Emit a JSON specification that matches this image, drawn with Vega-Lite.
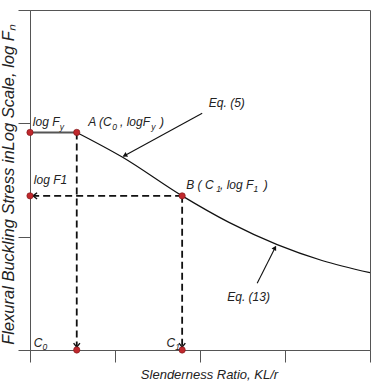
{
  "$schema": "https://vega.github.io/schema/vega-lite/v6.json",
  "width": 340,
  "height": 340,
  "autosize": {"type": "none"},
  "padding": {"left": 30, "top": 10, "right": 2, "bottom": 36},
  "background": "white",
  "config": {
    "view": {"stroke": "#555", "strokeWidth": 1},
    "axis": {"grid": false, "labels": false, "tickSize": 12, "domainColor": "#555", "tickColor": "#555", "titleFont": "Liberation Sans", "titleFontStyle": "italic", "titleFontWeight": "normal", "titleColor": "#222"}
  },
  "datasets": {
    "curve": [
      {"x": 0.55, "y": 1.92}, {"x": 1.085, "y": 1.703}, {"x": 1.79, "y": 1.36},
      {"x": 2.341, "y": 1.126}, {"x": 2.908, "y": 0.93}, {"x": 3.435, "y": 0.79}, {"x": 4.0, "y": 0.682}
    ],
    "flat": [{"x": 0, "y": 1.92}, {"x": 0.55, "y": 1.92}],
    "dashed": [
      {"x": 0.55, "y": 1.92, "x2": 0.55, "y2": 0},
      {"x": 1.79, "y": 1.36, "x2": 1.79, "y2": 0},
      {"x": 1.79, "y": 1.36, "x2": 0, "y2": 1.36}
    ],
    "pointers": [
      {"x": 2.026, "y": 2.089, "x2": 1.1, "y2": 1.71},
      {"x": 2.673, "y": 0.589, "x2": 2.885, "y2": 0.905}
    ],
    "heads": [
      {"x": 1.115, "y": 1.717, "a": 241.5},
      {"x": 2.882, "y": 0.902, "a": 29.5}
    ],
    "chevrons": [
      {"x": 0.55, "y": 0.025, "a": 0},
      {"x": 1.79, "y": 0.025, "a": 0},
      {"x": 0.035, "y": 1.36, "a": 90}
    ],
    "dots": [
      {"x": 0, "y": 1.92}, {"x": 0.55, "y": 1.92}, {"x": 0, "y": 1.36},
      {"x": 1.79, "y": 1.36}, {"x": 0.55, "y": 0}, {"x": 1.79, "y": 0}
    ],
    "labels": [
      {"x": 0.033, "y": 1.974, "t": "log F"},
      {"x": 0.685, "y": 1.974, "t": "A (C"},
      {"x": 1.059, "y": 1.974, "t": ", logF"},
      {"x": 1.53, "y": 1.974, "t": ")"},
      {"x": 0.045, "y": 1.462, "t": "log F1"},
      {"x": 1.838, "y": 1.418, "t": "B ( C"},
      {"x": 2.235, "y": 1.418, "t": ", log F"},
      {"x": 2.751, "y": 1.418, "t": ")"},
      {"x": 2.104, "y": 2.147, "t": "Eq. (5)"},
      {"x": 2.32, "y": 0.432, "t": "Eq. (13)"},
      {"x": 0.045, "y": 0.029, "t": "C"},
      {"x": 1.606, "y": 0.029, "t": "C"}
    ],
    "subs": [
      {"x": 0.351, "y": 1.94, "t": "y"},
      {"x": 0.967, "y": 1.94, "t": "0"},
      {"x": 1.426, "y": 1.94, "t": "y"},
      {"x": 2.19, "y": 1.391, "t": "1"},
      {"x": 2.629, "y": 1.391, "t": "1"},
      {"x": 0.147, "y": 0.004, "t": "0"},
      {"x": 1.708, "y": 0.004, "t": "1"}
    ]
  },
  "encoding": {
    "x": {"field": "x", "type": "quantitative", "scale": {"domain": [0, 4], "nice": false},
      "axis": {"values": [0, 1, 2, 3, 4], "title": "Slenderness Ratio, KL/r", "titleFontSize": 13, "titlePadding": 6, "titleX": 179}},
    "y": {"field": "y", "type": "quantitative", "scale": {"domain": [0, 3], "nice": false},
      "axis": {"values": [0, 1, 2, 3], "title": "Flexural Buckling Stress inLog Scale, log Fₙ", "titleFontSize": 16.5, "titlePadding": 1, "titleY": 174}}
  },
  "layer": [
    {"data": {"name": "flat"}, "mark": {"type": "line", "color": "#555", "strokeWidth": 2}, "encoding": {}},
    {"data": {"name": "curve"}, "mark": {"type": "line", "color": "#111", "strokeWidth": 1.2, "interpolate": "monotone"}, "encoding": {}},
    {"data": {"name": "dashed"}, "mark": {"type": "rule", "color": "#111", "strokeWidth": 1.8, "strokeDash": [7, 4]},
      "encoding": {"x2": {"field": "x2"}, "y2": {"field": "y2"}}},
    {"data": {"name": "pointers"}, "mark": {"type": "rule", "color": "#111", "strokeWidth": 1.1},
      "encoding": {"x2": {"field": "x2"}, "y2": {"field": "y2"}}},
    {"data": {"name": "heads"}, "mark": {"type": "point", "shape": "triangle-up", "filled": true, "color": "#111", "size": 28, "opacity": 1},
      "encoding": {"angle": {"field": "a", "type": "quantitative", "scale": null}}},
    {"data": {"name": "chevrons"}, "mark": {"type": "point", "shape": "M-1,-1.3L0,0L1,-1.3", "filled": false, "color": "#111", "strokeWidth": 1.4, "size": 40, "opacity": 1},
      "encoding": {"angle": {"field": "a", "type": "quantitative", "scale": null}}},
    {"data": {"name": "dots"}, "mark": {"type": "point", "shape": "circle", "filled": true, "fill": "#c0282d", "stroke": "#7a1518", "strokeWidth": 0.6, "size": 40, "opacity": 1}},
    {"data": {"name": "labels"}, "mark": {"type": "text", "align": "left", "baseline": "alphabetic", "font": "Liberation Sans", "fontStyle": "italic", "fontSize": 12, "color": "#222"},
      "encoding": {"text": {"field": "t"}}},
    {"data": {"name": "subs"}, "mark": {"type": "text", "align": "left", "baseline": "alphabetic", "font": "Liberation Sans", "fontStyle": "italic", "fontSize": 8.5, "color": "#222"},
      "encoding": {"text": {"field": "t"}}}
  ]
}
